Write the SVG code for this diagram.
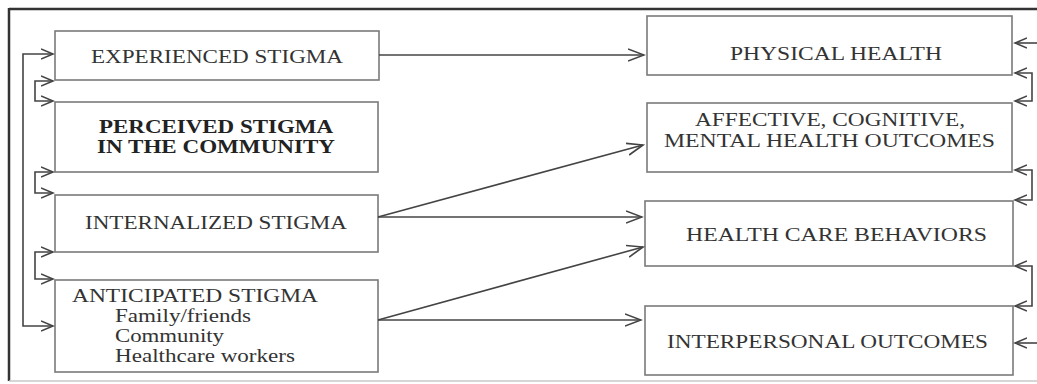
<svg xmlns="http://www.w3.org/2000/svg" width="1037" height="384" viewBox="0 0 1037 384">
<style>
.box{fill:#fff;stroke:#7a7a7a;stroke-width:1.6}
.t{font-family:"Liberation Serif","Times New Roman",serif;font-size:18px;fill:#333}
.b{font-weight:bold;fill:#222}
.c{fill:none;stroke:#444;stroke-width:1.6}
</style>
<defs>
<marker id="ah" markerUnits="userSpaceOnUse" markerWidth="18" markerHeight="14" refX="16" refY="7" orient="auto-start-reverse" viewBox="0 0 18 14">
<path d="M0,1 L16,7 L0,13" fill="none" stroke="#444" stroke-width="1.6"/>
</marker>
<marker id="as" markerUnits="userSpaceOnUse" markerWidth="14" markerHeight="12" refX="12" refY="6" orient="auto-start-reverse" viewBox="0 0 14 12">
<path d="M0,1 L12,6 L0,11" fill="none" stroke="#444" stroke-width="1.6"/>
</marker>
</defs>
<rect width="1037" height="384" fill="#fff"/>
<g id="frame">
<line x1="9" y1="9" x2="1037" y2="9" stroke="#333" stroke-width="2.5"/>
<line x1="9" y1="8" x2="9" y2="381" stroke="#333" stroke-width="2.5"/>
<line x1="9" y1="381" x2="1037" y2="381" stroke="#c8c8c8" stroke-width="1.5"/>
</g>
<g id="experienced">
<rect class="box" x="55" y="31" width="324" height="49"/>
<text class="t" x="91" y="63" textLength="252" lengthAdjust="spacingAndGlyphs">EXPERIENCED STIGMA</text>
</g>
<g id="perceived">
<rect class="box" x="55" y="102" width="323" height="70"/>
<text class="t b" x="99" y="133" textLength="234" lengthAdjust="spacingAndGlyphs">PERCEIVED STIGMA</text>
<text class="t b" x="97" y="153" textLength="238" lengthAdjust="spacingAndGlyphs">IN THE COMMUNITY</text>
</g>
<g id="internalized">
<rect class="box" x="55" y="195" width="323" height="57"/>
<text class="t" x="85" y="229" textLength="262" lengthAdjust="spacingAndGlyphs">INTERNALIZED STIGMA</text>
</g>
<g id="anticipated">
<rect class="box" x="55" y="280" width="323" height="92"/>
<text class="t" x="72" y="302" textLength="246" lengthAdjust="spacingAndGlyphs">ANTICIPATED STIGMA</text>
<text class="t" x="115" y="322" textLength="136" lengthAdjust="spacingAndGlyphs">Family/friends</text>
<text class="t" x="115" y="342" textLength="109" lengthAdjust="spacingAndGlyphs">Community</text>
<text class="t" x="115" y="362" textLength="180" lengthAdjust="spacingAndGlyphs">Healthcare workers</text>
</g>
<g id="physical">
<rect class="box" x="647" y="16" width="365" height="59"/>
<text class="t" x="730" y="60" textLength="212" lengthAdjust="spacingAndGlyphs">PHYSICAL HEALTH</text>
</g>
<g id="affective">
<rect class="box" x="647" y="103" width="365" height="69"/>
<text class="t" x="695" y="126" textLength="270" lengthAdjust="spacingAndGlyphs">AFFECTIVE, COGNITIVE,</text>
<text class="t" x="664" y="147" textLength="331" lengthAdjust="spacingAndGlyphs">MENTAL HEALTH OUTCOMES</text>
</g>
<g id="healthcare">
<rect class="box" x="645" y="201" width="368" height="65"/>
<text class="t" x="686" y="241" textLength="301" lengthAdjust="spacingAndGlyphs">HEALTH CARE BEHAVIORS</text>
</g>
<g id="interpersonal">
<rect class="box" x="645" y="306" width="368" height="69"/>
<text class="t" x="667" y="348" textLength="321" lengthAdjust="spacingAndGlyphs">INTERPERSONAL OUTCOMES</text>
</g>
<g id="connectors">
<path class="c" d="M379,55 H644" marker-end="url(#ah)"/>
<path class="c" d="M378,217 L643,145" marker-end="url(#ah)"/>
<path class="c" d="M378,217 H642" marker-end="url(#ah)"/>
<path class="c" d="M378,320 L643,247" marker-end="url(#ah)"/>
<path class="c" d="M378,320 H641" marker-end="url(#ah)"/>
<path class="c" d="M53,54 H23 V326 H53" marker-start="url(#as)" marker-end="url(#as)"/>
<path class="c" d="M53,81 H35 V101 H53" marker-start="url(#as)" marker-end="url(#as)"/>
<path class="c" d="M53,172 H35 V193 H53" marker-start="url(#as)" marker-end="url(#as)"/>
<path class="c" d="M53,252 H35 V279 H53" marker-start="url(#as)" marker-end="url(#as)"/>
<path class="c" d="M1037,43 H1015" marker-end="url(#as)"/>
<path class="c" d="M1037,343 H1015" marker-end="url(#as)"/>
<path class="c" d="M1015,73 H1032 V101 H1015" marker-start="url(#as)" marker-end="url(#as)"/>
<path class="c" d="M1015,170 H1032 V200 H1015" marker-start="url(#as)" marker-end="url(#as)"/>
<path class="c" d="M1015,266 H1032 V306 H1015" marker-start="url(#as)" marker-end="url(#as)"/>
</g>
</svg>
